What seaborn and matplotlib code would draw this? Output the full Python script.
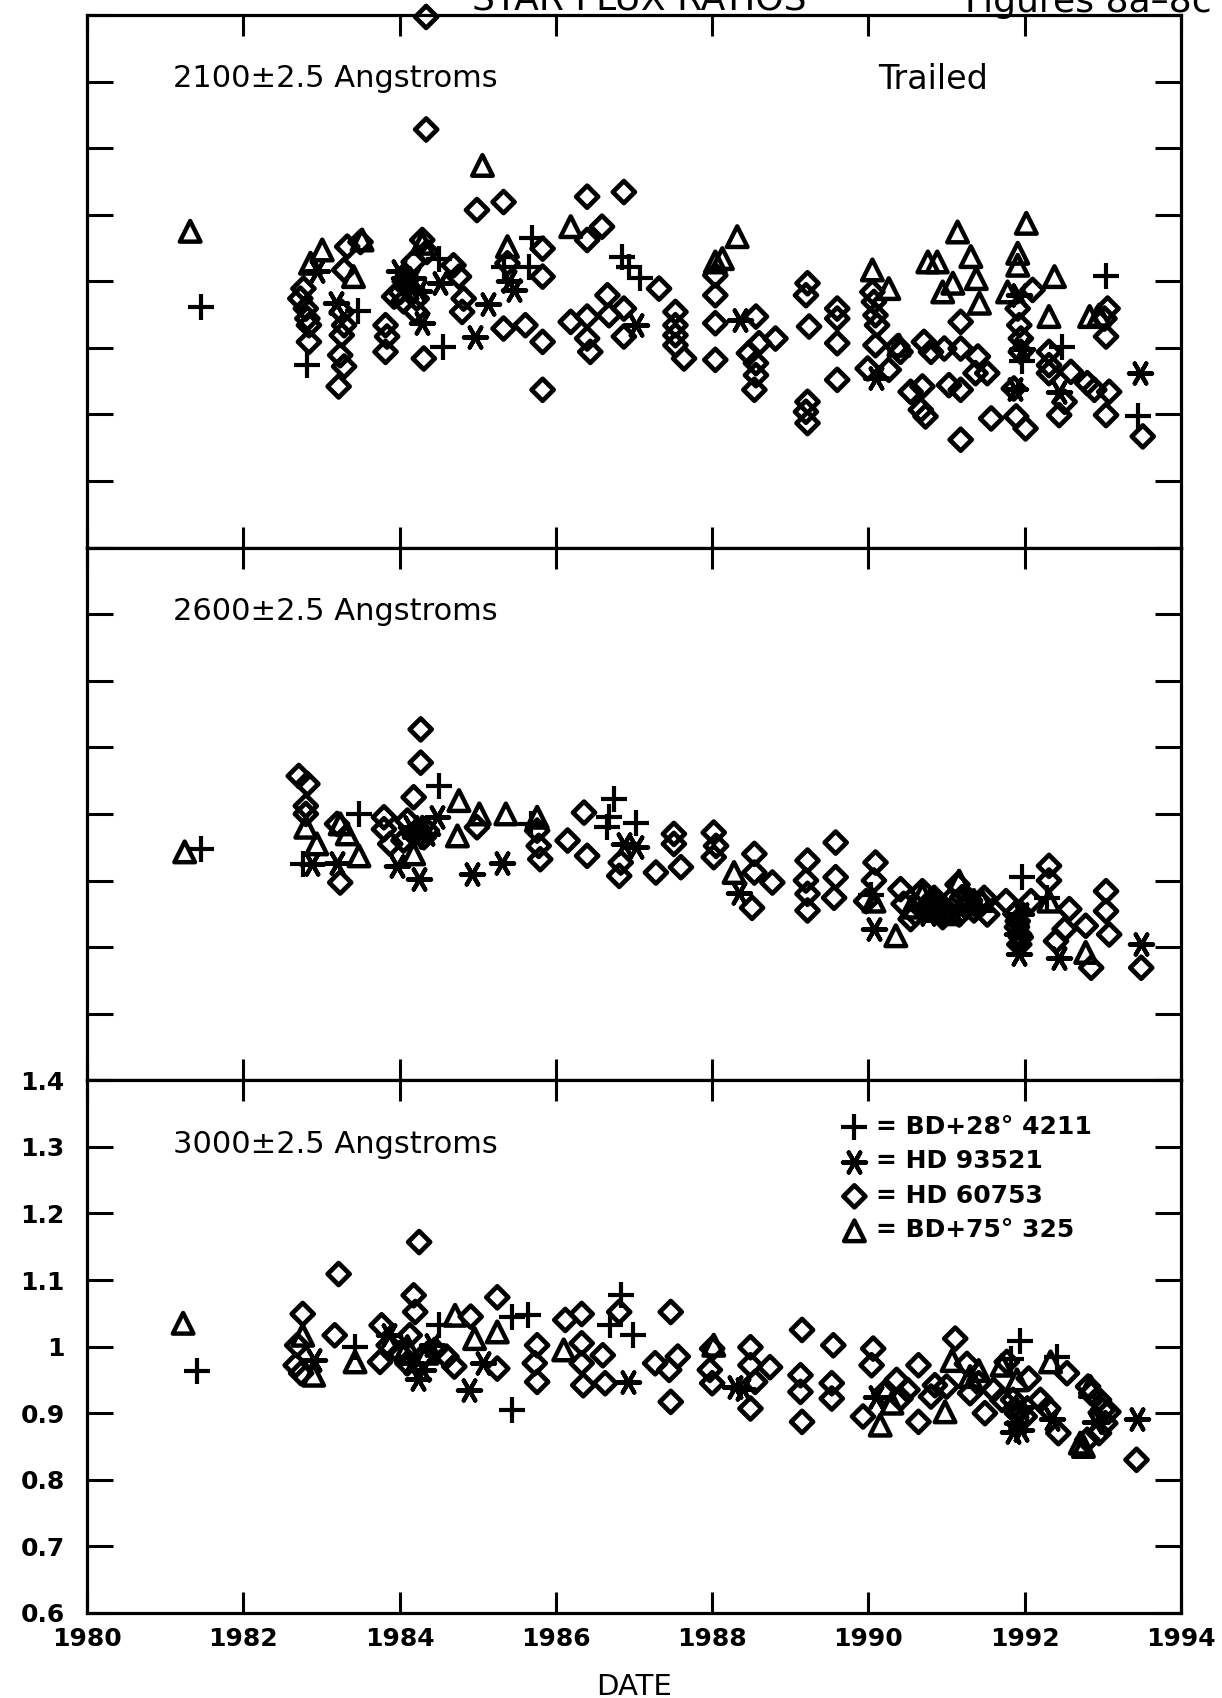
import numpy as np
import matplotlib
matplotlib.use("Agg")
import matplotlib.pyplot as plt
import seaborn as sns

# ---- data (year, flux ratio) ----
# 2100 A panel
top_plus_x = [1981.46, 1982.82, 1983.47, 1984.51, 1984.55, 1985.34, 1985.66, 1985.69, 1986.84, 1986.93,
              1987.07, 1991.97, 1992.48, 1993.04, 1993.45]
top_plus_y = [0.961, 0.875, 0.956, 1.034, 0.902, 1.021, 1.021, 1.065, 1.037, 1.021,
              1.005, 0.880, 0.902, 1.008, 0.797]
top_star_x = [1982.94, 1983.18, 1983.99, 1984.17, 1984.52, 1984.29, 1984.97, 1985.13, 1985.46, 1985.40,
              1987.02, 1988.36, 1990.10, 1991.88, 1991.93, 1991.96, 1992.44, 1993.48, 1984.05, 1984.25,
              1984.15]
top_star_y = [1.015, 0.967, 1.016, 1.005, 0.997, 0.937, 0.917, 0.966, 0.987, 1.000,
              0.935, 0.942, 0.854, 0.838, 0.979, 0.899, 0.834, 0.862, 1.005, 0.985,
              0.990]
top_diam_x = [1982.73, 1982.80, 1982.82, 1982.84, 1982.84, 1982.77, 1983.33, 1983.29, 1983.26, 1983.29,
              1983.26, 1983.24, 1983.29, 1983.22, 1983.50, 1983.82, 1983.84, 1983.82, 1983.93, 1984.01,
              1984.10, 1984.18, 1984.29, 1984.35, 1984.22, 1984.31, 1984.34, 1984.34, 1984.69, 1984.76,
              1984.80, 1984.82, 1984.99, 1985.33, 1985.38, 1985.33, 1985.61, 1985.83, 1985.83, 1985.83,
              1985.83, 1986.40, 1986.87, 1986.59, 1986.40, 1986.19, 1986.40, 1986.40, 1986.44, 1986.66,
              1986.68, 1986.87, 1986.87, 1987.32, 1987.53, 1987.53, 1987.53, 1987.53, 1987.64, 1988.04,
              1988.04, 1988.04, 1988.04, 1988.56, 1988.60, 1988.47, 1988.56, 1988.56, 1988.54, 1988.81,
              1989.22, 1989.20, 1989.24, 1989.22, 1989.20, 1989.22, 1989.60, 1989.60, 1989.60, 1989.60,
              1990.05, 1990.07, 1990.09, 1990.11, 1990.09, 1989.99, 1990.26, 1990.41, 1990.37, 1990.54,
              1990.69, 1990.67, 1990.73, 1990.71, 1990.80, 1990.97, 1991.03, 1991.18, 1991.18, 1991.18,
              1991.18, 1991.40, 1991.37, 1991.52, 1991.57, 1991.86, 1991.89, 1992.01, 1991.91, 1991.93,
              1991.95, 1991.95, 1992.10, 1992.31, 1992.31, 1992.31, 1992.59, 1992.51, 1992.44, 1992.80,
              1992.89, 1993.08, 1993.04, 1993.06, 1993.02, 1993.04, 1993.51, 1984.05, 1984.20]
top_diam_y = [0.974, 0.959, 0.944, 0.934, 0.909, 0.989, 1.052, 1.017, 0.954, 0.934,
              0.919, 0.889, 0.872, 0.842, 1.059, 0.934, 0.917, 0.894, 0.977, 0.984,
              1.004, 1.029, 1.062, 1.044, 0.974, 0.884, 1.397, 1.228, 1.024, 1.007,
              0.954, 0.974, 1.107, 1.119, 1.027, 0.929, 0.934, 0.909, 1.007, 1.049,
              0.837, 1.127, 1.134, 1.082, 1.062, 0.939, 0.947, 0.914, 0.894, 0.979,
              0.949, 0.959, 0.917, 0.989, 0.954, 0.934, 0.919, 0.904, 0.884, 1.009,
              0.979, 0.937, 0.882, 0.947, 0.907, 0.892, 0.877, 0.859, 0.837, 0.914,
              0.997, 0.979, 0.932, 0.819, 0.804, 0.787, 0.959, 0.944, 0.907, 0.852,
              0.984, 0.969, 0.949, 0.934, 0.904, 0.869, 0.867, 0.894, 0.902, 0.834,
              0.842, 0.807, 0.797, 0.909, 0.894, 0.899, 0.844, 0.837, 0.939, 0.899,
              0.762, 0.887, 0.862, 0.862, 0.794, 0.839, 0.797, 0.779, 0.959, 0.934,
              0.914, 0.894, 0.987, 0.894, 0.874, 0.862, 0.864, 0.819, 0.799, 0.847,
              0.837, 0.834, 0.799, 0.959, 0.944, 0.917, 0.767, 0.970, 0.955]
top_tri_x = [1981.32, 1982.86, 1983.01, 1983.52, 1983.41, 1984.29, 1985.06, 1985.38, 1986.19, 1988.04,
             1988.13, 1988.32, 1990.05, 1990.26, 1990.39, 1990.76, 1990.88, 1990.95, 1991.08, 1991.14,
             1991.31, 1991.38, 1991.42, 1991.78, 1991.91, 1991.91, 1992.02, 1992.31, 1992.38, 1992.83,
             1992.95]
top_tri_y = [1.075, 1.027, 1.047, 1.062, 1.007, 1.057, 1.174, 1.052, 1.082, 1.029,
             1.034, 1.067, 1.017, 0.989, 0.904, 1.029, 1.029, 0.984, 0.997, 1.074,
             1.037, 1.004, 0.967, 0.984, 1.042, 1.024, 1.087, 0.947, 1.007, 0.947,
             0.949]

# 2600 A panel
mid_plus_x = [1981.46, 1982.77, 1983.48, 1984.50, 1985.68, 1986.74, 1986.68, 1986.66, 1987.02, 1990.03,
              1991.97, 1992.29]
mid_plus_y = [0.948, 0.925, 1.000, 1.042, 0.985, 1.022, 0.995, 0.980, 0.987, 0.879,
              0.905, 0.874]
mid_star_x = [1982.88, 1983.20, 1983.97, 1984.25, 1984.93, 1985.31, 1984.48, 1984.14, 1987.02, 1986.87,
              1988.34, 1990.07, 1991.93, 1992.44, 1993.49, 1991.95, 1990.76, 1990.90, 1991.10, 1991.30,
              1991.90, 1984.20, 1984.35]
mid_star_y = [0.925, 0.927, 0.922, 0.902, 0.910, 0.927, 0.995, 0.980, 0.950, 0.955,
              0.882, 0.827, 0.789, 0.784, 0.804, 0.849, 0.849, 0.860, 0.855, 0.860,
              0.820, 0.965, 0.970]
mid_diam_x = [1982.71, 1982.82, 1982.80, 1982.80, 1983.24, 1983.20, 1984.27, 1984.27, 1984.18, 1983.80,
              1983.80, 1983.88, 1984.10, 1984.18, 1984.31, 1984.99, 1985.76, 1985.78, 1985.80, 1986.36,
              1986.15, 1986.40, 1986.83, 1986.81, 1987.28, 1987.51, 1987.51, 1987.60, 1988.02, 1988.05,
              1988.02, 1988.54, 1988.54, 1988.51, 1988.77, 1989.22, 1989.20, 1989.22, 1989.22, 1989.58,
              1989.58, 1989.56, 1990.09, 1990.07, 1989.97, 1990.41, 1990.54, 1990.69, 1990.84, 1991.14,
              1991.16, 1991.48, 1991.52, 1991.76, 1991.91, 1991.93, 1991.93, 1992.08, 1992.31, 1992.31,
              1992.57, 1992.51, 1992.40, 1992.78, 1992.85, 1993.04, 1993.04, 1993.08, 1993.49, 1990.90,
              1991.00, 1991.25, 1991.30, 1990.45, 1990.60, 1990.75, 1990.95, 1991.05, 1991.20, 1991.35,
              1991.45, 1991.88, 1991.90, 1991.95, 1984.05, 1984.35]
mid_diam_y = [1.057, 1.045, 1.012, 1.000, 0.897, 0.985, 1.127, 1.077, 1.025, 0.995,
              0.977, 0.955, 0.990, 0.970, 0.965, 0.980, 0.975, 0.952, 0.932, 1.002,
              0.960, 0.937, 0.927, 0.907, 0.912, 0.970, 0.955, 0.920, 0.972, 0.952,
              0.935, 0.940, 0.912, 0.859, 0.897, 0.930, 0.900, 0.880, 0.855, 0.957,
              0.905, 0.874, 0.927, 0.900, 0.869, 0.887, 0.842, 0.884, 0.874, 0.894,
              0.849, 0.874, 0.849, 0.869, 0.839, 0.819, 0.804, 0.869, 0.922, 0.900,
              0.857, 0.827, 0.809, 0.832, 0.769, 0.884, 0.854, 0.819, 0.769, 0.860,
              0.855, 0.860, 0.870, 0.865, 0.850, 0.860, 0.845, 0.870, 0.875, 0.855,
              0.865, 0.850, 0.830, 0.815, 0.960, 0.975]
mid_tri_x = [1981.25, 1982.80, 1982.94, 1983.24, 1983.33, 1983.48, 1984.18, 1984.29, 1984.74, 1984.76,
             1985.02, 1985.36, 1985.76, 1988.28, 1990.07, 1990.35, 1990.69, 1990.84, 1991.16, 1991.35,
             1992.31, 1992.78, 1990.55, 1990.85, 1991.05, 1991.25, 1991.45]
mid_tri_y = [0.943, 0.980, 0.955, 0.985, 0.970, 0.937, 0.940, 0.980, 0.967, 1.020,
             1.000, 1.000, 0.995, 0.912, 0.869, 0.817, 0.879, 0.870, 0.899, 0.870,
             0.869, 0.792, 0.860, 0.855, 0.850, 0.865, 0.870]

# 3000 A panel
bot_plus_x = [1981.41, 1983.43, 1984.50, 1985.44, 1985.64, 1985.44, 1986.83, 1986.69, 1986.99, 1991.94,
              1991.83, 1992.41]
bot_plus_y = [0.963, 1.000, 1.032, 1.045, 1.047, 0.905, 1.077, 1.032, 1.017, 1.009,
              0.982, 0.984]
bot_star_x = [1982.90, 1983.86, 1984.23, 1984.41, 1984.89, 1985.07, 1986.92, 1988.29, 1988.40, 1991.85,
              1991.95, 1992.35, 1992.90, 1993.43, 1984.15, 1984.30, 1990.10, 1991.90, 1991.95]
bot_star_y = [0.980, 1.017, 0.952, 1.002, 0.935, 0.975, 0.947, 0.940, 0.937, 0.872,
              0.910, 0.892, 0.887, 0.892, 0.975, 0.965, 0.925, 0.885, 0.875]
bot_diam_x = [1982.76, 1982.69, 1982.74, 1982.67, 1983.22, 1983.17, 1983.75, 1983.77, 1984.18, 1984.20,
              1984.25, 1983.86, 1984.13, 1984.91, 1985.25, 1985.25, 1985.76, 1985.73, 1985.76, 1986.12,
              1986.33, 1986.33, 1986.33, 1986.35, 1986.60, 1986.63, 1986.81, 1987.27, 1987.47, 1987.56,
              1987.45, 1987.47, 1988.00, 1987.97, 1988.00, 1988.49, 1988.49, 1988.55, 1988.74, 1988.49,
              1989.15, 1989.13, 1989.13, 1989.15, 1989.55, 1989.53, 1989.53, 1990.06, 1990.04, 1989.93,
              1990.36, 1990.41, 1990.64, 1990.64, 1990.85, 1991.11, 1991.26, 1991.41, 1991.49, 1991.77,
              1991.71, 1992.05, 1992.54, 1992.20, 1992.30, 1992.43, 1992.81, 1993.07, 1993.03, 1993.43,
              1984.00, 1984.10, 1984.30, 1984.45, 1984.60, 1984.70, 1990.20, 1990.50, 1990.80, 1991.00,
              1991.30, 1991.60, 1991.85, 1991.90, 1992.00, 1992.85, 1992.95, 1993.00, 1992.95, 1992.80]
bot_diam_y = [1.049, 1.002, 0.960, 0.972, 1.109, 1.017, 0.977, 1.032, 1.077, 1.052,
              1.157, 1.002, 1.017, 1.045, 1.074, 0.967, 1.002, 0.975, 0.947, 1.040,
              1.049, 1.005, 0.975, 0.942, 0.987, 0.945, 1.052, 0.975, 1.052, 0.985,
              0.965, 0.917, 0.997, 0.965, 0.945, 0.999, 0.972, 0.947, 0.969, 0.907,
              1.025, 0.957, 0.932, 0.887, 1.002, 0.945, 0.922, 0.997, 0.972, 0.895,
              0.950, 0.922, 0.972, 0.887, 0.942, 1.012, 0.974, 0.945, 0.900, 0.977,
              0.920, 0.952, 0.960, 0.920, 0.907, 0.870, 0.940, 0.902, 0.885, 0.830,
              0.990, 0.975, 0.985, 0.995, 0.985, 0.970, 0.930, 0.935, 0.925, 0.940,
              0.930, 0.935, 0.920, 0.900, 0.895, 0.930, 0.920, 0.905, 0.870, 0.860]
bot_tri_x = [1981.23, 1982.76, 1982.90, 1983.43, 1984.71, 1984.96, 1985.25, 1986.10, 1988.02, 1990.15,
             1990.98, 1991.07, 1991.41, 1991.71, 1992.33, 1992.71, 1992.84, 1984.10, 1984.35, 1990.30,
             1991.30, 1991.90, 1992.75]
bot_tri_y = [1.035, 1.017, 0.957, 0.977, 1.047, 1.012, 1.022, 0.995, 1.002, 0.882,
             0.902, 0.979, 0.964, 0.972, 0.977, 0.855, 0.940, 1.000, 0.990, 0.915,
             0.955, 0.950, 0.850]

star_names = ["= BD+28° 4211", "= HD 93521", "= HD 60753", "= BD+75° 325"]
panel_titles = ["2100±2.5 Angstroms", "2600±2.5 Angstroms", "3000±2.5 Angstroms"]
year_ticks = [1980, 1982, 1984, 1986, 1988, 1990, 1992, 1994]
ratio_ticks = [0.6, 0.7, 0.8, 0.9, 1.0, 1.1, 1.2, 1.3, 1.4]
ratio_labels = ["0.6", "0.7", "0.8", "0.9", "1", "1.1", "1.2", "1.3", "1.4"]

panels = [
    [(top_plus_x, top_plus_y), (top_star_x, top_star_y), (top_diam_x, top_diam_y), (top_tri_x, top_tri_y)],
    [(mid_plus_x, mid_plus_y), (mid_star_x, mid_star_y), (mid_diam_x, mid_diam_y), (mid_tri_x, mid_tri_y)],
    [(bot_plus_x, bot_plus_y), (bot_star_x, bot_star_y), (bot_diam_x, bot_diam_y), (bot_tri_x, bot_tri_y)],
]

# marker, size, line width, open?
marker_styles = [("+", 340, 3.0, False), ((6, 2, 90), 280, 3.0, False),
                 ("D", 125, 3.4, True), ("^", 220, 3.2, True)]

sns.set_style("ticks")
plt.rcParams["font.family"] = ["DejaVu Sans"]
plt.rcParams["text.color"] = "black"
plt.rcParams["axes.labelcolor"] = "black"

fig, axes = plt.subplots(3, 1, figsize=(12.22, 16.98), dpi=100, sharex=True)
fig.subplots_adjust(left=0.0712, right=0.9665, top=0.9912, bottom=0.0501, hspace=0)

for ax, series, title in zip(axes, panels, panel_titles):
    for (xs, ys), (marker, size, lw, is_open), name in zip(series, marker_styles, star_names):
        sns.scatterplot(x=xs, y=ys, ax=ax, marker=marker, s=size, color="black", label=name)
        coll = ax.collections[-1]
        if is_open:
            coll.set_facecolor("none")
        coll.set_edgecolor("black")
        coll.set_linewidth(lw)
        coll.set_clip_on(False)

    ax.set_xlim(1980, 1994)
    ax.set_ylim(0.6, 1.4)
    ax.set_xticks(year_ticks)
    ax.set_yticks(ratio_ticks)
    ax.tick_params(axis="both", direction="in", top=True, right=True, width=2.2,
                   labelsize=18, colors="black")
    ax.tick_params(axis="y", length=19, pad=16)
    ax.tick_params(axis="x", length=15, pad=10)
    for sp in ax.spines.values():
        sp.set_linewidth(2.3)
        sp.set_color("black")
    ax.text(0.079, 0.88, title, transform=ax.transAxes, fontsize=22, va="center", ha="left",
            color="black")
    if ax.get_legend() is not None:
        ax.get_legend().remove()

axes[0].text(0.773, 0.878, "Trailed", transform=axes[0].transAxes, fontsize=24,
             va="center", ha="center", color="black")

for ax in axes[:2]:
    ax.tick_params(axis="y", labelleft=False)

bottom = axes[2]
bottom.set_yticklabels(ratio_labels, fontweight="bold")
bottom.set_xticklabels([str(y) for y in year_ticks], fontweight="bold")
bottom.set_xlabel("DATE", fontsize=21, labelpad=16, color="black")

leg = bottom.legend(loc="upper left", bbox_to_anchor=(0.69, 0.935), frameon=False,
                    borderaxespad=0, borderpad=0, handlelength=1.0, handletextpad=0.35,
                    labelspacing=0.42, scatterpoints=1,
                    prop={"size": 18, "weight": "bold"})
for txt in leg.get_texts():
    txt.set_color("black")

# header text cut off by the top edge of the page
fig.text(0.523, 1 - 9 / 1698, "STAR FLUX RATIOS", fontsize=26, ha="center", va="baseline",
         color="black")
fig.text(0.79, 1 - 12 / 1698, "Figures 8a–8c", fontsize=26, ha="left", va="baseline",
         color="black")

fig.savefig("out.png", dpi=100)
